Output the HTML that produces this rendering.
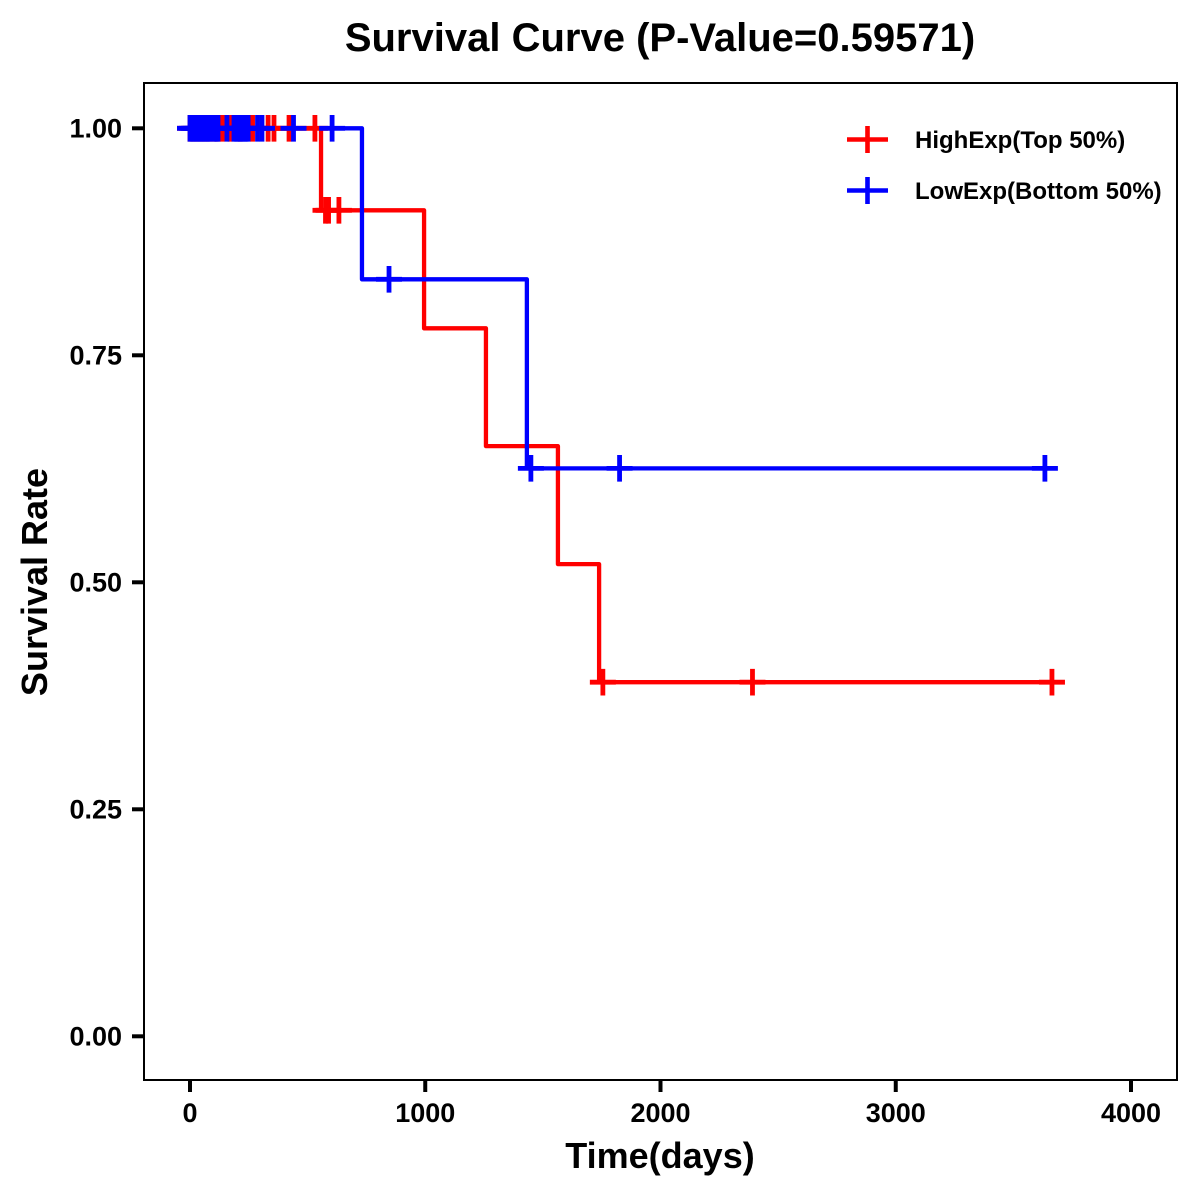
<!DOCTYPE html>
<html>
<head>
<meta charset="utf-8">
<title>Survival Curve</title>
<style>
html,body{margin:0;padding:0;background:#fff;}
svg{display:block;}
text{font-family:"Liberation Sans",Arial,sans-serif;font-weight:bold;fill:#000;}
</style>
</head>
<body>
<svg id="chart" width="1200" height="1200" viewBox="0 0 1200 1200" xmlns="http://www.w3.org/2000/svg">
<rect width="1200" height="1200" fill="#fff"/>
<text x="660" y="51" font-size="40" text-anchor="middle">Survival Curve (P-Value=0.59571)</text>
<text x="660" y="1168" font-size="36" text-anchor="middle">Time(days)</text>
<text transform="translate(47,582) rotate(-90)" font-size="36" text-anchor="middle">Survival Rate</text>
<g id="ticks"></g>
<g id="marks"></g>
<rect x="144" y="83" width="1033" height="997" fill="none" stroke="#000" stroke-width="2"/>
<g>
<path d="M847 139.500H888M867.500 126V153" fill="none" stroke="#f00" stroke-width="4.600"/>
<text x="915" y="148" font-size="24">HighExp(Top 50%)</text>
</g>
<g>
<path d="M847 190.500H888M867.500 177V204" fill="none" stroke="#00f" stroke-width="4.600"/>
<text x="915" y="199" font-size="24">LowExp(Bottom 50%)</text>
</g>
</svg>
<script>
const xTicks = [0, 1000, 2000, 3000, 4000];
const yTicks = [0, 0.25, 0.5, 0.75, 1];
const yTickLabels = ["0.00", "0.25", "0.50", "0.75", "1.00"];
const highTimes = [0, 557, 995, 1258, 1564, 1739, 3664];
const highSurvival = [1, 0.9097, 0.7797, 0.65, 0.52, 0.39, 0.39];
const lowTimes = [-1, 731, 1432, 3634];
const lowSurvival = [1, 0.8337, 0.6255, 0.6255];
const highCensorTimes = [0, 20, 40, 60, 80, 100, 119, 138, 170, 213, 266, 332, 357, 421, 531, 576, 589, 633, 1755, 2391, 3664];
const highCensorSurvival = [1, 1, 1, 1, 1, 1, 1, 1, 1, 1, 1, 1, 1, 1, 1, 0.9097, 0.9097, 0.9097, 0.39, 0.39, 0.39];
const lowCensorTimes = [0, 9, 17, 26, 34, 43, 51, 60, 68, 77, 85, 102, 111, 119, 157, 187, 196, 204, 213, 221, 230, 238, 247, 287, 306, 440, 604, 846, 1449, 1826, 3634];
const lowCensorSurvival = [1, 1, 1, 1, 1, 1, 1, 1, 1, 1, 1, 1, 1, 1, 1, 1, 1, 1, 1, 1, 1, 1, 1, 1, 1, 1, 1, 0.8337, 0.6255, 0.6255, 0.6255];

const NS = 'http://www.w3.org/2000/svg';
const xScale = t => 190 + t * 0.23525;
const yScale = s => 1036.3 - s * 908;
const ticksG = document.getElementById('ticks');
const marksG = document.getElementById('marks');

function make(tag, attrs, parent, content) {
  const el = document.createElementNS(NS, tag);
  for (const k in attrs) el.setAttribute(k, attrs[k]);
  if (content !== undefined) el.textContent = content;
  parent.appendChild(el);
  return el;
}

xTicks.forEach(t => {
  const x = xScale(t);
  const tick = make('line', {x1: x, x2: x, y1: 1080, y2: 1092, stroke: '#000', 'stroke-width': 4}, ticksG);
  
  
  const label = make('text', {x: x, y: 1122, 'font-size': 27, 'text-anchor': 'middle'}, ticksG, String(t));
  
  
});

yTicks.forEach((s, i) => {
  const y = yScale(s);
  const tick = make('line', {x1: 132, x2: 144, y1: y, y2: y, stroke: '#000', 'stroke-width': 4}, ticksG);
  
  
  const label = make('text', {x: 122, y: y + 9.3, 'font-size': 27, 'text-anchor': 'end'}, ticksG, yTickLabels[i]);
  
  
});

function stepPath(times, values) {
  let d = 'M' + xScale(times[0]) + ' ' + yScale(values[0]);
  for (let i = 1; i < times.length; i++) {
    d += 'H' + xScale(times[i]) + 'V' + yScale(values[i]);
  }
  return d;
}

function drawCurve(times, values, color, name) {
  const p = make('path', {d: stepPath(times, values), fill: 'none', stroke: color, 'stroke-width': 4.3, 'stroke-linejoin': 'round'}, marksG);
  
  
}

function drawCensors(times, values, color, name) {
  times.forEach((t, i) => {
    const x = xScale(t), y = yScale(values[i]);
    const m = make('path', {d: 'M' + (x - 13) + ' ' + y + 'H' + (x + 13) + 'M' + x + ' ' + (y - 13.3) + 'V' + (y + 13.3), fill: 'none', stroke: color, 'stroke-width': 4.8}, marksG);
    
    
  });
}

drawCurve(highTimes, highSurvival, '#f00', 'high-exp-curve');
drawCurve(lowTimes, lowSurvival, '#00f', 'low-exp-curve');
drawCensors(highCensorTimes, highCensorSurvival, '#f00', 'high-exp-censor-mark');
drawCensors(lowCensorTimes, lowCensorSurvival, '#00f', 'low-exp-censor-mark');
</script>
</body>
</html>
